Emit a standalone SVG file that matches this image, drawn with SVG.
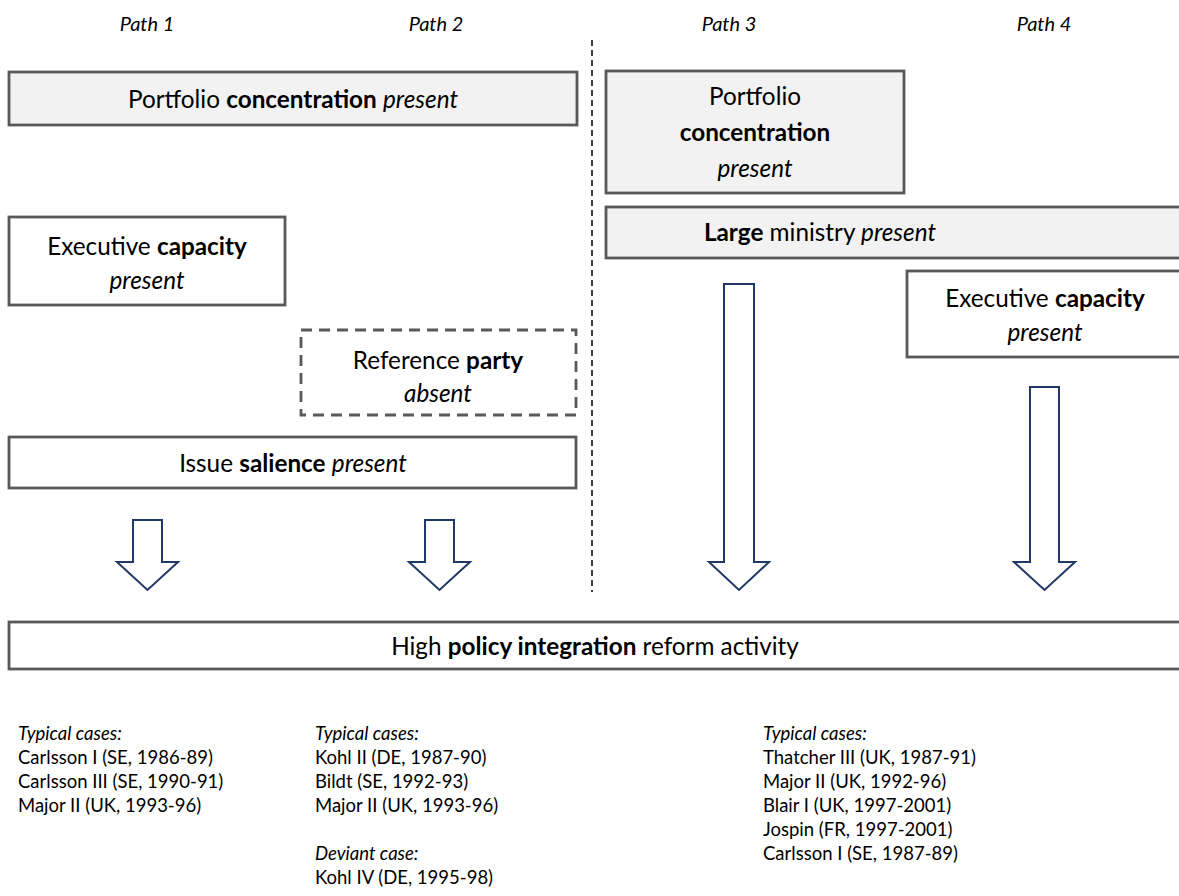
<svg xmlns="http://www.w3.org/2000/svg" width="1179" height="896" viewBox="0 0 1179 896">
<defs>
<style>
text{font-family:Lato,"Open Sans","Liberation Sans",sans-serif;fill:#000}
.t{font-size:24.3px;text-anchor:middle}
.hdr{font-size:20px;font-style:italic;text-anchor:middle}
.b{font-weight:bold}
.i{font-style:italic}
.box{fill:#fff;stroke:#595959;stroke-width:2.8}
.gbox{fill:#f2f2f2;stroke:#595959;stroke-width:2.8}
.dbox{fill:#fff;stroke:#595959;stroke-width:2.8;stroke-dasharray:11 7}
.arr{fill:#fff;stroke:#1f3864;stroke-width:2;stroke-linejoin:miter}
.cs{font-size:18.5px}
</style>
</defs>
<rect width="1179" height="896" fill="#fff"/>
<g id="headers">
<text class="hdr" x="147" y="31">Path 1</text>
<text class="hdr" x="436" y="31">Path 2</text>
<text class="hdr" x="729" y="31">Path 3</text>
<text class="hdr" x="1044" y="31">Path 4</text>
</g>
<line id="divider" x1="592" y1="40" x2="592" y2="592" stroke="#000" stroke-width="1.5" stroke-dasharray="6 4"/>
<g id="n-pc1">
<rect class="gbox" x="9" y="72" width="568" height="53"/>
<text class="t" x="293" y="108">Portfolio <tspan class="b">concentration</tspan> <tspan class="i">present</tspan></text>
</g>
<g id="n-ec1">
<rect class="box" x="9" y="217" width="276" height="88"/>
<text class="t" x="147" y="255">Executive <tspan class="b">capacity</tspan></text>
<text class="t i" x="147" y="289">present</text>
</g>
<g id="n-rp">
<rect class="dbox" x="301" y="330" width="275" height="85"/>
<text class="t" x="438" y="369">Reference <tspan class="b">party</tspan></text>
<text class="t i" x="438" y="402">absent</text>
</g>
<g id="n-is">
<rect class="box" x="9" y="437" width="567" height="51"/>
<text class="t" x="293" y="472">Issue <tspan class="b">salience</tspan> <tspan class="i">present</tspan></text>
</g>
<g id="n-pc3">
<rect class="gbox" x="606" y="71" width="298" height="122"/>
<text class="t" x="755" y="105">Portfolio</text>
<text class="t b" x="755" y="141">concentration</text>
<text class="t i" x="755" y="177">present</text>
</g>
<g id="n-lm">
<rect class="gbox" x="606" y="207" width="590" height="51"/>
<text class="t" x="820" y="241"><tspan class="b">Large</tspan> ministry <tspan class="i">present</tspan></text>
</g>
<g id="n-ec4">
<rect class="box" x="907" y="271" width="290" height="86"/>
<text class="t" x="1045" y="307">Executive <tspan class="b">capacity</tspan></text>
<text class="t i" x="1045" y="341">present</text>
</g>
<g id="n-out">
<rect class="box" x="9" y="622" width="1190" height="47"/>
<text class="t" x="595" y="655">High <tspan class="b">policy integration</tspan> reform activity</text>
</g>
<g id="connectors">
<path class="arr" d="M133,520 H162 V562 H178 L147.5,590 L117,562 H133 Z"/>
<path class="arr" d="M425,520 H454 V562 H470 L439.5,590 L409,562 H425 Z"/>
<path class="arr" d="M724,284 H754 V562 H769 L739,590 L709,562 H724 Z"/>
<path class="arr" d="M1030,387 H1059 V562 H1075 L1044.5,590 L1014,562 H1030 Z"/>
</g>
<g id="cases1">
<text class="cs i" x="18" y="740">Typical cases:</text>
<text class="cs" x="18" y="764">Carlsson I (SE, 1986-89)</text>
<text class="cs" x="18" y="788">Carlsson III (SE, 1990-91)</text>
<text class="cs" x="18" y="812">Major II (UK, 1993-96)</text>
</g>
<g id="cases2">
<text class="cs i" x="315" y="740">Typical cases:</text>
<text class="cs" x="315" y="764">Kohl II (DE, 1987-90)</text>
<text class="cs" x="315" y="788">Bildt (SE, 1992-93)</text>
<text class="cs" x="315" y="812">Major II (UK, 1993-96)</text>
<text class="cs i" x="315" y="860">Deviant case:</text>
<text class="cs" x="315" y="884">Kohl IV (DE, 1995-98)</text>
</g>
<g id="cases3">
<text class="cs i" x="763" y="740">Typical cases:</text>
<text class="cs" x="763" y="764">Thatcher III (UK, 1987-91)</text>
<text class="cs" x="763" y="788">Major II (UK, 1992-96)</text>
<text class="cs" x="763" y="812">Blair I (UK, 1997-2001)</text>
<text class="cs" x="763" y="836">Jospin (FR, 1997-2001)</text>
<text class="cs" x="763" y="860">Carlsson I (SE, 1987-89)</text>
</g>
</svg>
